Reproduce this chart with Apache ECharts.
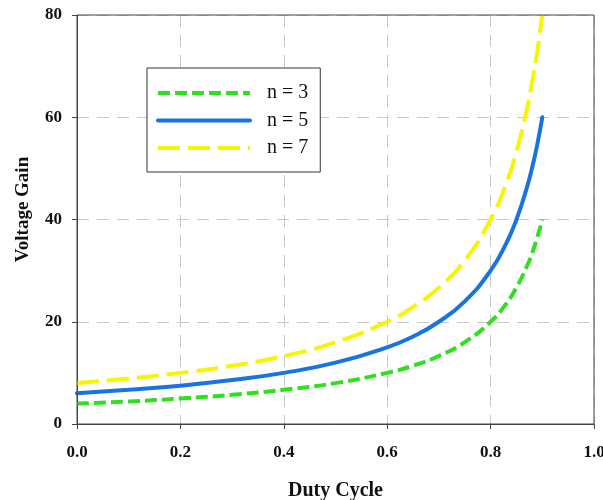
<!DOCTYPE html>
<html>
<head>
    <meta charset="UTF-8">
    <title>Voltage Gain</title>
    <script type="text/javascript" src="https://cdn.jsdelivr.net/npm/echarts@6/dist/echarts.min.js"></script>
    <style>
        html, body { margin: 0; padding: 0; background: #fff; }
        #main { width: 603px; height: 500px; }
    </style>
</head>
<body>
<div id="main"></div>
<script type="text/javascript">
    // duty cycle points
    var duty = [0, 0.1, 0.2, 0.3, 0.4, 0.5, 0.6, 0.65, 0.7, 0.75, 0.8, 0.83, 0.85, 0.87, 0.88, 0.89, 0.9];
    var gainN3 = [4, 4.4, 5, 5.7, 6.7, 8, 10, 11.4, 13.3, 16, 20, 23.5, 26.7, 30.8, 33.3, 36.4, 40];
    var gainN5 = [6, 6.7, 7.5, 8.6, 10, 12, 15, 17.1, 20, 24, 30, 35.3, 40, 46.2, 50, 54.5, 60];
    var gainN7 = [8, 8.9, 10, 11.4, 13.3, 16, 20, 22.9, 26.7, 32, 40, 47, 53.3, 61.5, 66.7, 72.7, 80];
    var seriesNames = ['n = 3', 'n = 5', 'n = 7'];

    function pairs(xs, ys) {
        var out = [];
        for (var i = 0; i < xs.length; i++) out.push([xs[i], ys[i]]);
        return out;
    }

    var serif = "'Liberation Serif', 'Times New Roman', serif";
    var myChart = echarts.init(document.getElementById('main'));
    myChart.setOption({
        animation: false,
        grid: {
            left: 77, top: 15, width: 517, height: 409, z: 10,
            outerBoundsMode: 'none', containLabel: false,
            show: true, borderColor: '#444', borderWidth: 1
        },
        legend: {
            orient: 'vertical',
            left: 147, top: 68,
            data: seriesNames,
            itemWidth: 92, itemHeight: 14, itemGap: 7.5,
            padding: [15, 12, 14, 9],
            borderColor: '#333', borderWidth: 1,
            backgroundColor: '#fff',
            itemStyle: { opacity: 0 },
            lineStyle: { width: 4 },
            textStyle: { fontFamily: serif, fontSize: 20, lineHeight: 20, color: '#111', padding: [0, 0, 0, 12] }
        },
        xAxis: {
            type: 'value', min: 0, max: 1, interval: 0.2,
            name: 'Duty Cycle', nameLocation: 'middle', nameGap: 57,
            nameTextStyle: { fontFamily: serif, fontSize: 20, fontWeight: 'bold', color: '#111' },
            axisLine: { lineStyle: { color: '#444' } },
            axisTick: { show: true, length: 5, lineStyle: { color: '#444' } },
            axisLabel: { margin: 20, fontFamily: serif, fontSize: 17, fontWeight: 'bold', color: '#111',
                formatter: function (v) { return v.toFixed(1); } },
            splitLine: { lineStyle: { color: '#c8c8c8', type: [12, 8] } }
        },
        yAxis: {
            type: 'value', min: 0, max: 80, interval: 20,
            name: 'Voltage Gain', nameLocation: 'middle', nameGap: 44,
            nameTextStyle: { fontFamily: serif, fontSize: 19, fontWeight: 'bold', color: '#111', padding: [0, 0, 0, 20] },
            axisLine: { show: true, lineStyle: { color: '#444' } },
            axisTick: { show: true, length: 5, lineStyle: { color: '#444' } },
            axisLabel: { margin: 15, fontFamily: serif, fontSize: 17, fontWeight: 'bold', color: '#111' },
            splitLine: { lineStyle: { color: '#c8c8c8', type: [12, 8] } }
        },
        series: [{
            name: seriesNames[0], type: 'line', smooth: true, symbol: 'none',
            data: pairs(duty, gainN3),
            lineStyle: { color: '#2ee01e', width: 4, type: [12, 5] },
            itemStyle: { color: '#2ee01e' }
        }, {
            name: seriesNames[1], type: 'line', smooth: true, symbol: 'none',
            data: pairs(duty, gainN5),
            lineStyle: { color: '#1874e0', width: 4, type: 'solid', cap: 'round' },
            itemStyle: { color: '#1874e0' }
        }, {
            name: seriesNames[2], type: 'line', smooth: true, symbol: 'none',
            data: pairs(duty, gainN7),
            lineStyle: { color: '#f6f600', width: 4, type: [22, 8] },
            itemStyle: { color: '#f6f600' }
        }]
    });
</script>
</body>
</html>
